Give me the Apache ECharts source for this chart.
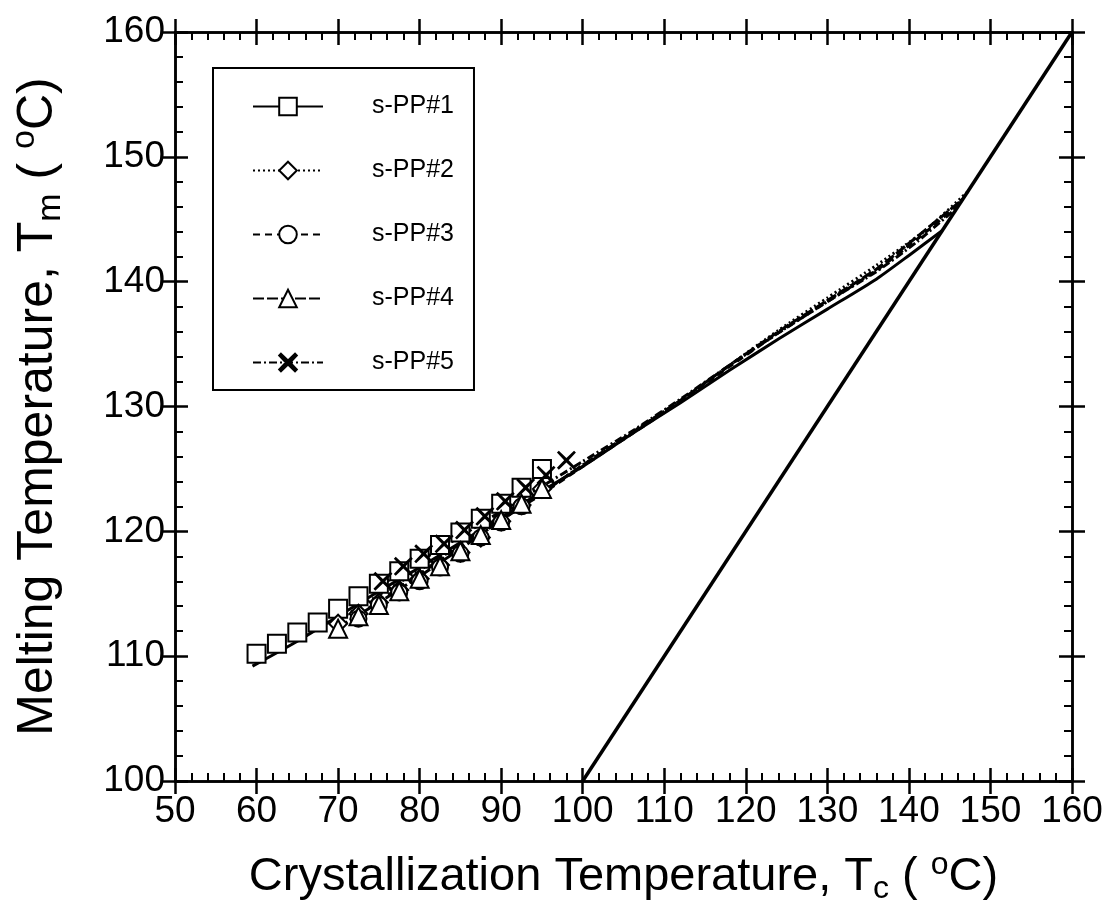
<!DOCTYPE html>
<html>
<head>
<meta charset="utf-8">
<script src="https://cdn.jsdelivr.net/npm/echarts@6/dist/echarts.min.js"></script>
<style>
  html, body { margin: 0; padding: 0; background: #ffffff; }
  #chart { width: 1111px; height: 914px; }
</style>
</head>
<body>
<div id="chart"></div>
<script>
// Sample names
const names = ['s-PP#1', 's-PP#2', 's-PP#3', 's-PP#4', 's-PP#5'];

// Measured melting temperature Tm vs crystallization temperature Tc (°C)
const tc1 = [60, 62.5, 65, 67.5, 70, 72.5, 75, 77.5, 80, 82.5, 85, 87.5, 90, 92.5, 95];
const tm1 = [110.2, 111.0, 111.9, 112.7, 113.8, 114.8, 115.8, 116.8, 117.8, 118.9, 119.9, 121.0, 122.2, 123.5, 125.0];

const tc2 = [70, 72.5, 75, 77.5, 80, 82.5, 85, 87.5, 90, 92.5, 95];
const tm2 = [112.6, 113.4, 114.3, 115.3, 116.2, 117.3, 118.3, 119.5, 120.8, 122.1, 123.4];

const tc3 = [72.5, 75, 77.5, 80, 82.5, 85, 87.5, 90, 92.5];
const tm3 = [113.0, 114.1, 115.1, 116.0, 117.1, 118.2, 119.5, 120.7, 122.0];

const tc4 = [70, 72.5, 75, 77.5, 80, 82.5, 85, 87.5, 90, 92.5, 95];
const tm4 = [112.2, 113.2, 114.1, 115.2, 116.2, 117.2, 118.4, 119.7, 120.9, 122.2, 123.4];

const tc5 = [75.5, 78, 80.5, 83, 85.5, 88, 90.5, 93, 95.5, 98];
const tm5 = [116.0, 117.2, 118.2, 119.0, 120.1, 121.2, 122.4, 123.5, 124.5, 125.7];

// Fitted curves, extended up to the Tm = Tc line
const fitTc1 = [59.5, 65, 70, 75, 80, 85, 90, 95, 100, 106, 112, 118, 124, 130, 136, 140, 144.1];
const fitTm1 = [109.2, 111.2, 113.2, 115.2, 117.1, 119.1, 121.1, 123.2, 125.2, 127.8, 130.3, 132.9, 135.4, 137.8, 140.2, 142.1, 144.1];

const fitTc2 = [70, 75, 80, 85, 90, 95, 100, 106, 112, 118, 124, 130, 136, 142, 147.2];
const fitTm2 = [112.9, 114.9, 116.9, 118.9, 121.0, 123.1, 125.3, 127.9, 130.5, 133.3, 136.1, 138.7, 141.3, 144.1, 147.2];

const fitTc3 = [72.5, 75, 80, 85, 90, 95, 100, 106, 112, 118, 124, 130, 136, 141, 146.3];
const fitTm3 = [113.3, 114.4, 116.6, 118.7, 120.9, 123.0, 125.2, 127.8, 130.4, 133.2, 135.9, 138.4, 140.9, 143.4, 146.3];

const fitTc4 = [70, 75, 80, 85, 90, 95, 100, 106, 112, 118, 124, 130, 136, 141, 146.6];
const fitTm4 = [112.3, 114.3, 116.4, 118.6, 120.9, 123.1, 125.3, 127.9, 130.5, 133.3, 136.0, 138.5, 141.0, 143.6, 146.6];

const fitTc5 = [75.5, 80, 85, 90, 95, 100, 106, 112, 118, 124, 130, 136, 141, 146.0];
const fitTm5 = [115.8, 117.6, 119.6, 121.6, 123.6, 125.6, 128.0, 130.6, 133.3, 135.9, 138.4, 140.8, 143.2, 146.0];

// Equilibrium line Tm = Tc
const eqTc = [100, 160];
const eqTm = [100, 160];

const measured = [[tc1, tm1], [tc2, tm2], [tc3, tm3], [tc4, tm4], [tc5, tm5]];
const fitted = [[fitTc1, fitTm1], [fitTc2, fitTm2], [fitTc3, fitTm3], [fitTc4, fitTm4], [fitTc5, fitTm5]];

const pair = (xs, ys) => xs.map((x, i) => [x, ys[i]]);

const FONT = 'Liberation Sans, Arial, Helvetica, sans-serif';
const INK = '#000000';

const crossPath = 'path://M2,0 L10,7.6 L18,0 L20,2 L12.4,10 L20,18 L18,20 L10,12.4 L2,20 L0,18 L7.6,10 L0,2 Z';
const symbols = ['emptyRect', 'emptyDiamond', 'emptyCircle', 'emptyTriangle', crossPath];
const symbolSizes = [18, 18, 16, 18, 19];
const dashes = ['solid', [2, 3], [7, 5], [11, 3], [8, 3, 2, 3]];

const series = [];
names.forEach((n, i) => {
  series.push({
    name: n,
    type: 'line',
    data: pair(fitted[i][0], fitted[i][1]),
    smooth: 0.2,
    symbol: symbols[i],
    symbolSize: symbolSizes[i],
    showSymbol: false,
    lineStyle: { color: INK, width: 3, type: dashes[i], join: 'round' },
    itemStyle: { color: INK, borderColor: INK, borderWidth: 2.8 },
    z: 3,
    animation: false,
    silent: true
  });
});
names.forEach((n, i) => {
  series.push({
    name: n + ' data',
    type: 'scatter',
    data: pair(measured[i][0], measured[i][1]),
    symbol: symbols[i],
    symbolSize: symbolSizes[i],
    itemStyle: i === 4
      ? { color: INK, opacity: 1 }
      : { color: INK, borderColor: INK, borderWidth: 3, opacity: 1 },
    z: 4,
    animation: false,
    silent: true
  });
});
series.push({
  name: 'Tm = Tc',
  type: 'line',
  data: pair(eqTc, eqTm),
  symbol: 'none',
  lineStyle: { color: INK, width: 3.5 },
  z: 3,
  animation: false,
  silent: true
});

const tickLabel = { fontFamily: FONT, fontSize: 37, color: INK };
const lineStyle = { color: INK, width: 2.5 };

function xAx(pos, inside, labels) {
  return {
    type: 'value', position: pos, min: 50, max: 160, interval: 10,
    axisLine: { show: true, onZero: false, lineStyle },
    axisTick: { show: true, inside, length: 13, lineStyle: { color: INK, width: 2.5 } },
    minorTick: { show: inside, splitNumber: 5, length: 8, lineStyle: { color: INK, width: 2 } },
    splitLine: { show: false }, minorSplitLine: { show: false },
    axisLabel: labels ? Object.assign({ show: true, margin: 12 }, tickLabel) : { show: false }
  };
}
function yAx(pos, inside, labels) {
  return {
    type: 'value', position: pos, min: 100, max: 160, interval: 10,
    axisLine: { show: true, onZero: false, lineStyle },
    axisTick: { show: true, inside, length: 13, lineStyle: { color: INK, width: 2.5 } },
    minorTick: { show: inside, splitNumber: 5, length: 8, lineStyle: { color: INK, width: 2 } },
    splitLine: { show: false }, minorSplitLine: { show: false },
    axisLabel: labels ? Object.assign({ show: true, margin: 10 }, tickLabel) : { show: false }
  };
}

function titleRich(size) {
  const small = Math.round(size * 0.68);
  const lh = Math.round(size * 1.2);
  return {
    m: { fontFamily: FONT, fontSize: size, color: INK, lineHeight: lh, verticalAlign: 'middle' },
    sub: { fontFamily: FONT, fontSize: small, color: INK, lineHeight: lh, verticalAlign: 'bottom' },
    sup: { fontFamily: FONT, fontSize: small, color: INK, lineHeight: lh, verticalAlign: 'top' }
  };
}

const xMain = xAx('bottom', true, true);
xMain.name = '{m|Crystallization Temperature, T}{sub|c}{m| ( }{sup|o}{m|C)}';
xMain.nameLocation = 'middle';
xMain.nameGap = 68;
xMain.nameTextStyle = { rich: titleRich(47) };

const yMain = yAx('left', true, true);
yMain.name = '{m|Melting Temperature, T}{sub|m}{m| ( }{sup|o}{m|C)}';
yMain.nameLocation = 'middle';
yMain.nameGap = 107;
yMain.nameTextStyle = { rich: titleRich(50) };

const option = {
  backgroundColor: '#ffffff',
  animation: false,
  grid: { left: 175, right: 39, top: 32, bottom: 133, containLabel: false },
  xAxis: [xMain, xAx('bottom', false, false), xAx('top', true, false), xAx('top', false, false)],
  yAxis: [yMain, yAx('left', false, false), yAx('right', true, false), yAx('right', false, false)],
  legend: {
    data: names,
    orient: 'vertical',
    left: 213,
    top: 68,
    itemWidth: 70,
    itemHeight: 22,
    itemGap: 39,
    padding: [26, 20, 15, 39],
    borderColor: INK,
    borderWidth: 2,
    backgroundColor: '#ffffff',
    selectedMode: false,
    formatter: '{t|{name}}',
    textStyle: {
      rich: { t: { fontFamily: FONT, fontSize: 25, color: INK, padding: [0, 0, 0, 44] } }
    }
  },
  series
};

const chart = echarts.init(document.getElementById('chart'), null, { renderer: 'canvas' });
chart.setOption(option);
</script>
</body>
</html>
